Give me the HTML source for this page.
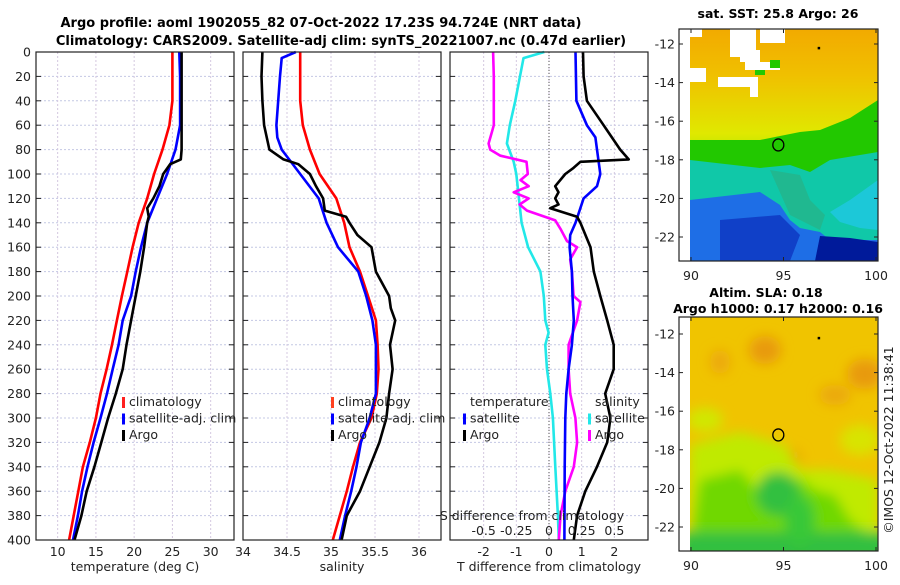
<!DOCTYPE html>
<html><head><meta charset="utf-8"><style>
html,body{margin:0;padding:0;background:#fff;}
svg text{font-family:"DejaVu Sans","Liberation Sans",sans-serif;fill:#222;}
.b{font-weight:bold;fill:#000;}
</style></head><body>
<svg id="chart" width="900" height="580" viewBox="0 0 900 580" xmlns="http://www.w3.org/2000/svg">
<text class="b" x="321" y="27" font-size="13" text-anchor="middle">Argo profile: aoml 1902055_82 07-Oct-2022 17.23S 94.724E (NRT data)</text>
<text class="b" x="341" y="45" font-size="13" text-anchor="middle">Climatology: CARS2009. Satellite-adj clim: synTS_20221007.nc (0.47d earlier)</text>
<g id="plots"></g>
<g id="maps"></g>
</svg>
<script>
// ---- data (depth in m) ----
const depths=[0,20,40,60,80,100,120,140,160,180,200,220,240,260,280,300,320,340,360,380,400];
const tClim=[25.0,25.0,25.0,24.6,23.7,22.6,21.7,20.6,19.8,19.1,18.4,17.75,17.1,16.4,15.6,15.0,14.2,13.3,12.7,12.1,11.5];
const tSat=[25.9,26.0,26.0,26.0,25.4,24.3,23.0,21.7,20.9,20.2,19.6,18.5,17.97,17.2,16.45,15.6,14.7,13.9,13.2,12.65,12.0];
const argoDepthT=[0,20,40,60,80,88,92,100,110,120,128,135,140,160,180,200,220,240,260,280,300,320,340,360,380,400];
const tArgo=[26.2,26.2,26.2,26.2,26.2,26.1,24.7,23.8,23.3,22.5,21.7,21.9,21.7,21.3,20.8,20.2,19.6,19.0,18.5,17.6,16.6,15.7,14.8,13.8,13.1,12.2];
const sClim=[34.65,34.65,34.65,34.68,34.76,34.87,35.06,35.15,35.21,35.33,35.42,35.51,35.53,35.54,35.52,35.46,35.33,35.25,35.18,35.10,35.02];
const satDepthS=[0,5,20,40,60,70,80,100,120,140,160,180,200,220,240,260,280,300,320,340,360,380,400];
const sSat=[34.6,34.44,34.42,34.40,34.38,34.39,34.44,34.65,34.86,34.95,35.08,35.31,35.40,35.47,35.51,35.51,35.51,35.44,35.34,35.29,35.23,35.16,35.10];
const argoDepthS=[0,20,40,60,80,88,92,100,110,120,130,135,140,150,160,180,200,210,220,240,260,280,300,320,340,360,380,400];
const sArgo=[34.22,34.21,34.22,34.24,34.30,34.46,34.63,34.76,34.83,34.91,34.93,35.17,35.21,35.30,35.46,35.51,35.66,35.68,35.73,35.67,35.70,35.66,35.63,35.55,35.44,35.33,35.18,35.12];
const dDepthTs=[0,40,60,70,80,100,110,120,140,150,160,180,200,220,240,260,280,300,340,400];
const dTsat=[0.81,0.84,1.16,1.42,1.47,1.57,1.47,1.06,0.81,0.65,0.63,0.70,0.72,0.76,0.70,0.60,0.53,0.50,0.48,0.47];
const dDepthTa=[0,20,40,60,80,88,90,95,100,110,115,120,125,128,135,140,160,180,200,220,240,260,280,300,320,340,360,380,400];
const dTargo=[1.04,1.06,1.16,1.67,2.18,2.44,0.96,0.75,0.50,0.19,0.29,0.19,0.29,0.04,0.86,0.96,1.27,1.37,1.57,1.78,1.98,1.98,1.72,1.88,1.78,1.47,1.11,0.86,0.76];
const dDepthSs=[0,5,40,60,75,90,100,140,160,180,200,220,230,240,260,280,300,340,380,400];
const dSsat=[-0.036,-0.195,-0.258,-0.30,-0.322,-0.27,-0.25,-0.21,-0.16,-0.066,-0.04,-0.028,-0.003,-0.028,-0.015,0.01,0.03,0.048,0.068,0.075];
const dDepthSa=[0,20,60,65,75,80,85,90,100,105,110,115,120,125,130,138,145,155,160,170,180,200,205,220,240,260,280,300,320,340,360,380,400];
const dSargo=[-0.428,-0.422,-0.422,-0.435,-0.462,-0.45,-0.372,-0.172,-0.162,-0.218,-0.155,-0.27,-0.155,-0.225,-0.168,0.048,0.088,0.138,0.215,0.162,0.175,0.188,0.24,0.215,0.15,0.15,0.162,0.202,0.215,0.19,0.125,0.088,0.075];
const tTicks=[10,15,20,25,30];
const sTicks=[34,34.5,35,35.5,36];
const dtTicks=[-2,-1,0,1,2];
const dsTicks=[-0.5,-0.25,0,0.25,0.5];
const yTicks=[0,20,40,60,80,100,120,140,160,180,200,220,240,260,280,300,320,340,360,380,400];
const lonTicks=[90,95,100];
const latTicks=[-12,-14,-16,-18,-20,-22];

const NS='http://www.w3.org/2000/svg';
function mk(tag,attrs,parent,txt){const e=document.createElementNS(NS,tag);for(const k in attrs)e.setAttribute(k,attrs[k]);if(txt!==undefined)e.textContent=txt;parent.appendChild(e);return e;}
const plots=document.getElementById('plots');
const Y0=52,Y1=540;
const yS=d=>Y0+d*(Y1-Y0)/400;
const panels=[
 {x0:36,x1:234,lo:7.17,hi:33.05,ticks:tTicks,name:'temperature-panel',title:'temperature (deg C)'},
 {x0:243,x1:441,lo:34,hi:36.25,ticks:sTicks,name:'salinity-panel',title:'salinity'},
 {x0:450,x1:648,lo:-3.03,hi:3.03,ticks:dtTicks,name:'difference-panel',title:'T difference from climatology'}];
panels.forEach((p,i)=>{
  p.x=v=>p.x0+(v-p.lo)*(p.x1-p.x0)/(p.hi-p.lo);
  const g=mk('g',{},plots);
  
  
  yTicks.forEach(d=>{
    const gl=mk('line',{x1:p.x0,x2:p.x1,y1:yS(d),y2:yS(d),stroke:'#c4c8e4','stroke-width':1,'stroke-dasharray':'2,2'},g);
    
    
    mk('line',{x1:p.x0,x2:p.x0+5,y1:yS(d),y2:yS(d),stroke:'#222'},g);
    mk('line',{x1:p.x1-5,x2:p.x1,y1:yS(d),y2:yS(d),stroke:'#222'},g);
  });
  p.ticks.forEach(v=>{
    const gl=mk('line',{x1:p.x(v),x2:p.x(v),y1:Y0,y2:Y1,stroke:'#d4c8e0','stroke-width':1,'stroke-dasharray':'2,2'},g);
    
    
    const t=mk('text',{x:p.x(v),y:556,'font-size':12.5,'text-anchor':'middle'},g,String(v));
    
    
  });
  const at=mk('text',{x:(p.x0+p.x1)/2,y:571,'font-size':12.5,'text-anchor':'middle'},g,p.title);
  
  
});
yTicks.forEach(d=>{
  const t=mk('text',{x:31,y:yS(d)+4.5,'font-size':12.5,'text-anchor':'end'},plots,String(d));
  
  
});
const P3=panels[2];
mk('line',{x1:P3.x(0),x2:P3.x(0),y1:Y0,y2:Y1,stroke:'#555','stroke-dasharray':'1,2'},plots);
function series(p,ds,vs,color,name,scale){
  const pts=ds.map((d,i)=>p.x(vs[i]*(scale||1)).toFixed(1)+','+yS(d).toFixed(1)).join(' ');
  const e=mk('polyline',{points:pts,fill:'none',stroke:color,'stroke-width':2.6,'stroke-linejoin':'round'},plots);
  
  
}
series(panels[0],depths,tClim,'#ff0000','temp-climatology-line');
series(panels[0],depths,tSat,'#0000ff','temp-satellite-line');
series(panels[0],argoDepthT,tArgo,'#000','temp-argo-line');
series(panels[1],depths,sClim,'#ff0000','sal-climatology-line');
series(panels[1],satDepthS,sSat,'#0000ff','sal-satellite-line');
series(panels[1],argoDepthS,sArgo,'#000','sal-argo-line');
series(P3,dDepthSs,dSsat,'#22e8e8','s-diff-satellite-line',4);
series(P3,dDepthSa,dSargo,'#ff00ff','s-diff-argo-line',4);
series(P3,dDepthTs,dTsat,'#0000ff','t-diff-satellite-line');
series(P3,dDepthTa,dTargo,'#000','t-diff-argo-line');
panels.forEach(p=>{const r=mk('rect',{x:p.x0,y:Y0,width:p.x1-p.x0,height:Y1-Y0,fill:'none',stroke:'#222','stroke-width':1.2},plots);});
const sdt=mk('text',{x:532,y:520,'font-size':12.5,'text-anchor':'middle'},plots,'S difference from climatology');


dsTicks.forEach(v=>{
  const t=mk('text',{x:P3.x(v*4),y:535,'font-size':12.5,'text-anchor':'middle'},plots,String(v));
  
  
});
function legend(x,y,items,name){
  const g=mk('g',{},plots);
  
  
  items.forEach((it,i)=>{
    const yy=y+i*16.5;
    if(it[1])mk('rect',{x:x,y:yy-9,width:3,height:11,fill:it[1]},g);
    mk('text',{x:x+7,y:yy,'font-size':12.5},g,it[0]);
  });
}
legend(122,406,[['climatology','#ff2020'],['satellite-adj. clim','#0000ff'],['Argo','#000']],'temp-legend');
legend(331,406,[['climatology','#ff4020'],['satellite-adj. clim','#0000ff'],['Argo','#000']],'salinity-legend');
legend(463,406,[['temperature',null],['satellite','#0000ff'],['Argo','#000']],'t-diff-legend');
legend(588,406,[['salinity',null],['satellite','#22e8e8'],['Argo','#ff00ff']],'s-diff-legend');

// ---- maps ----
const maps=document.getElementById('maps');
function mapAxes(g,x0,y0,x1,y1,lat12,tickY){
  const lx=v=>691+(v-90)*18.5;
  const ly=v=>lat12+(-12-v)*19.3;
  latTicks.forEach(v=>{
    mk('line',{x1:x0,x2:x0+4,y1:ly(v),y2:ly(v),stroke:'#222'},g);
    mk('line',{x1:x1-4,x2:x1,y1:ly(v),y2:ly(v),stroke:'#222'},g);
    const t=mk('text',{x:x0-4,y:ly(v)+4.5,'font-size':12.5,'text-anchor':'end'},g,String(v));
    
    
  });
  lonTicks.forEach(v=>{
    mk('line',{x1:lx(v),x2:lx(v),y1:y1-4,y2:y1,stroke:'#222'},g);
    mk('line',{x1:lx(v),x2:lx(v),y1:y0,y2:y0+4,stroke:'#222'},g);
    const t=mk('text',{x:lx(v),y:tickY,'font-size':12.5,'text-anchor':'middle'},g,String(v));
    
    
  });
  mk('ellipse',{cx:lx(94.72),cy:ly(-17.23),rx:5.5,ry:6,fill:'none',stroke:'#000','stroke-width':1.3},g);
  mk('rect',{x:lx(96.9)-1,y:ly(-12.2)-1,width:2.5,height:2.5,fill:'#000'},g);
  mk('rect',{x:x0,y:y0,width:x1-x0,height:y1-y0,fill:'none',stroke:'#222','stroke-width':1.2},g);
}
const g1=mk('g',{},maps);


g1.innerHTML=`
<defs><linearGradient id="sstg" x1="0" y1="0" x2="0" y2="1">
<stop offset="0" stop-color="#f2aa00"/><stop offset="0.2" stop-color="#f0c000"/><stop offset="0.45" stop-color="#e0e800"/><stop offset="0.5" stop-color="#c8e800"/></linearGradient></defs>
<rect x="690" y="29" width="188" height="232" fill="url(#sstg)"/>
<polygon points="690,140 760,140 800,132 820,130 850,118 878,100 878,180 690,180" fill="#22c800"/>
<polygon points="690,160 760,168 790,165 810,172 830,160 878,152 878,261 690,261" fill="#10c8a8"/>
<polygon points="770,170 800,175 810,200 825,215 820,230 790,215" fill="#20b890"/>
<polygon points="690,200 760,192 780,205 790,220 800,228 820,232 830,240 878,240 878,261 690,261" fill="#1e6ee6"/>
<polygon points="720,220 780,215 800,235 790,261 720,261" fill="#1040c8"/>
<polygon points="820,236 850,238 878,242 878,261 815,261" fill="#001a9a"/>
<polygon points="878,180 878,230 860,228 840,222 830,212 850,200" fill="#1cc8d8"/>
<rect x="730" y="29" width="26" height="28" fill="#fff"/>
<rect x="740" y="50" width="20" height="12" fill="#fff"/>
<rect x="745" y="62" width="35" height="8" fill="#fff"/>
<rect x="718" y="77" width="40" height="10" fill="#fff"/>
<rect x="760" y="29" width="25" height="14" fill="#fff"/>
<rect x="690" y="68" width="16" height="14" fill="#fff"/>
<rect x="690" y="29" width="12" height="8" fill="#fff"/>
<rect x="750" y="85" width="8" height="12" fill="#fff"/>
<rect x="770" y="60" width="10" height="8" fill="#22c800"/>
<rect x="755" y="70" width="10" height="5" fill="#22c800"/>`;
mapAxes(g1,679,29,878,261,44,280);
const st1=mk('text',{x:778,y:18,'font-size':12.5,'text-anchor':'middle',class:'b'},maps,'sat. SST: 25.8 Argo: 26');


const g2=mk('g',{},maps);


g2.innerHTML=`
<defs><filter id="bl" x="-50%" y="-50%" width="200%" height="200%"><feGaussianBlur stdDeviation="6"/></filter>
<clipPath id="m2clip"><rect x="690" y="317" width="188" height="234"/></clipPath></defs>
<g clip-path="url(#m2clip)">
<rect x="690" y="317" width="188" height="234" fill="#f0c400"/>
<g filter="url(#bl)">
<ellipse cx="765" cy="350" rx="16" ry="14" fill="#e89a10"/>
<ellipse cx="720" cy="362" rx="10" ry="12" fill="#eca810"/>
<ellipse cx="865" cy="374" rx="18" ry="15" fill="#e89a10"/>
<ellipse cx="835" cy="395" rx="16" ry="10" fill="#eba810"/>
<ellipse cx="860" cy="520" rx="18" ry="18" fill="#eca010"/>
<ellipse cx="792" cy="459" rx="10" ry="10" fill="#eba810"/>
<ellipse cx="705" cy="420" rx="18" ry="12" fill="#d0e800"/>
<ellipse cx="860" cy="440" rx="20" ry="15" fill="#d8e400"/>
<polygon points="690,445 740,432 785,445 800,470 830,470 878,480 878,551 690,551" fill="#c0ea00"/>
<polygon points="700,480 740,470 765,500 800,478 815,490 835,495 850,520 878,540 878,551 690,551" fill="#70d800"/>
<ellipse cx="778" cy="494" rx="22" ry="22" fill="#30c040"/>
<rect x="680" y="532" width="210" height="30" fill="#30c040"/>
<ellipse cx="800" cy="520" rx="15" ry="25" fill="#38c838"/>
</g></g>`;
mapAxes(g2,679,317,878,551,334,570);
const st2=mk('text',{x:766,y:297,'font-size':12.5,'text-anchor':'middle',class:'b'},maps,'Altim. SLA: 0.18');


const st3=mk('text',{x:778,y:313,'font-size':12.5,'text-anchor':'middle',class:'b'},maps,'Argo h1000: 0.17 h2000: 0.16');


const cr=mk('text',{x:0,y:0,'font-size':12.5,'text-anchor':'middle',transform:'translate(893,440) rotate(-90)'},maps,'©IMOS 12-Oct-2022 11:38:41');


</script>
</body></html>
